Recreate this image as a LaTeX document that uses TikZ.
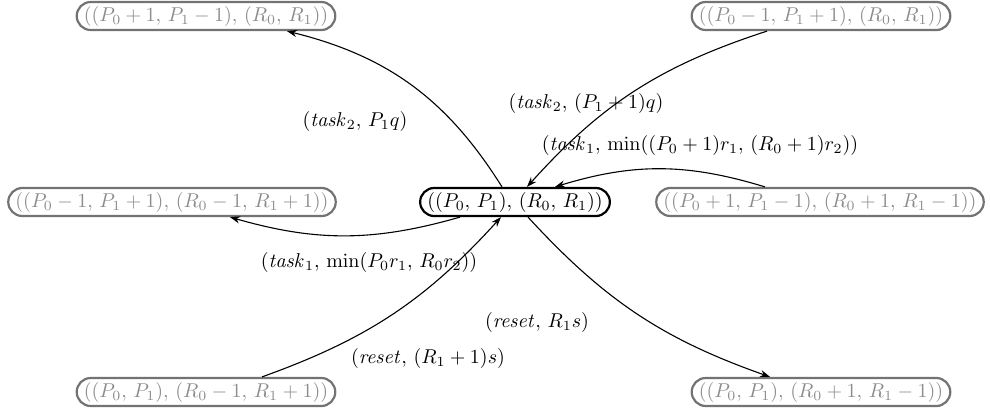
\documentclass[tikz,border=0pt]{standalone}
\usetikzlibrary{shapes.misc,arrows.meta}
\begin{document}
\begin{tikzpicture}[x=0.5pt,y=-0.5pt,
  state/.style={rounded rectangle,draw=black,line width=1.1pt,inner xsep=1.5pt,inner ysep=2pt,minimum height=14pt},
  other/.style={state,draw=black!55,text=black!45},
  arr/.style={-{Stealth[length=5pt,width=3.6pt]},line width=0.55pt},
  lbl/.style={inner sep=0pt}]
\useasboundingbox (0,0) rectangle (990,408);
\node[state] (c) at (515,202) {$((P_0,\,P_1),\,(R_0,\,R_1))$};
\node[other] (tl) at (206,16) {$((P_0+1,\,P_1-1),\,(R_0,\,R_1))$};
\node[other] (tr) at (821,16) {$((P_0-1,\,P_1+1),\,(R_0,\,R_1))$};
\node[other] (lm) at (172,202) {$((P_0-1,\,P_1+1),\,(R_0-1,\,R_1+1))$};
\node[other] (rm) at (820,202) {$((P_0+1,\,P_1-1),\,(R_0+1,\,R_1-1))$};
\node[other] (bl) at (206,392) {$((P_0,\,P_1),\,(R_0-1,\,R_1+1))$};
\node[other] (br) at (821,392) {$((P_0,\,P_1),\,(R_0+1,\,R_1-1))$};

\draw[arr] ([xshift=-6.5pt]c.north) to[bend right=22] ([xshift=40.5pt]tl.south);
\draw[arr] ([xshift=-27pt]tr.south) to[bend right=15] ([xshift=6pt]c.north);
\draw[arr] ([xshift=-27.5pt]rm.north) to[bend right=17] ([xshift=20pt]c.north);
\draw[arr] ([xshift=-27.5pt]c.south) to[bend left=16] ([xshift=29pt]lm.south);
\draw[arr] ([xshift=28pt]bl.north) to[bend right=14] ([xshift=-7pt]c.south);
\draw[arr] ([xshift=6.5pt]c.south) to[bend right=14] ([xshift=-25.5pt]br.north);

\node[lbl] (l1) at (355,121) {$(\mathit{task}_2,\,P_1q)$};
\node[lbl] (l2) at (586,103) {$(\mathit{task}_2,\,(P_1+1)q)$};
\node[lbl] (l3) at (700,145) {$(\mathit{task}_1,\,\min((P_0+1)r_1,\,(R_0+1)r_2))$};
\node[lbl] (l4) at (369,262) {$(\mathit{task}_1,\,\min(P_0r_1,\,R_0r_2))$};
\node[lbl] (l5) at (428,358) {$(\mathit{reset},\,(R_1+1)s)$};
\node[lbl] (l6) at (537,322) {$(\mathit{reset},\,R_1s)$};
\end{tikzpicture}
\end{document}
